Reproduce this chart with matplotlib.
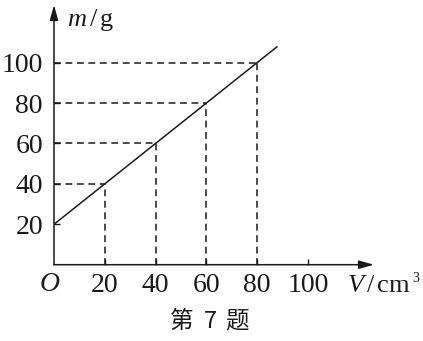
import matplotlib
matplotlib.use("Agg")
import matplotlib.pyplot as plt

# Data
line_V = [0, 88]
line_m = [20, 108]
point_V = [20, 40, 60, 80]
point_m = [40, 60, 80, 100]
x_ticks = [20, 40, 60, 80, 100]
y_ticks = [20, 40, 60, 80, 100]
x_max, y_max = 126, 128.5

plt.rcParams['mathtext.fontset'] = 'custom'
plt.rcParams['mathtext.rm'] = 'Liberation Serif'
plt.rcParams['mathtext.it'] = 'Liberation Serif:italic'
plt.rcParams['font.family'] = ['Liberation Serif', 'Noto Sans CJK SC']

fig = plt.figure(figsize=(4.23, 3.41), dpi=100)
W, H = 423, 341
x0, y0 = 54, 264.7
x1, y1 = 374, 5
ax = fig.add_axes([x0 / W, (H - y0) / H, (x1 - x0) / W, (y0 - y1) / H])
ax.set_xlim(0, x_max)
ax.set_ylim(0, y_max)
for s in ax.spines.values():
    s.set_visible(False)

col = '#1a1a1a'
# axes with arrows
for tgt in [(x_max, 0), (0, y_max)]:
    ax.annotate('', xy=tgt, xytext=(0, 0),
                arrowprops=dict(arrowstyle='-|>,head_length=0.9,head_width=0.25', color=col, lw=1.1,
                                shrinkA=0, shrinkB=0), annotation_clip=False)

# main line
ax.plot(line_V, line_m, color=col, lw=1.1, solid_capstyle='butt')

# dashed guides
for v, m in zip(point_V, point_m):
    ax.plot([v, v], [0, m], color=col, lw=1.1, dashes=(4.5, 3))
    ax.plot([0, v], [m, m], color=col, lw=1.1, dashes=(4.5, 3))

ax.set_xticks(x_ticks)
ax.set_yticks(y_ticks)
ax.set_xticklabels([str(t) for t in x_ticks])
ax.set_yticklabels([str(t) for t in y_ticks])
ax.tick_params(axis='both', direction='in', length=4, width=1, color=col,
               labelsize=20, labelcolor=col)
ax.tick_params(axis='y', pad=8)
ax.tick_params(axis='x', pad=6)

ax.text(-1.6, -9.6, '$O$', fontsize=20, ha='center', va='center', color=col)
ax.text(5, 121, r'$m\,/\,\mathrm{g}$', fontsize=19, ha='left', va='center', color=col)
ax.text(115.5, -10.5, r'$V\,/\,\mathrm{cm}$', fontsize=19, ha='left', va='center', color=col)
ax.text(141.0, -7.0, '3', fontsize=10, ha='left', va='center', color=col, clip_on=False)

cjk = ['Noto Sans CJK SC', 'DejaVu Sans']
for ch, cx in [('第', 181.5), ('7', 210), ('题', 237.5)]:
    fig.text(cx / W, 1 - 321 / H, ch, fontsize=17, ha='center', va='center',
             color=col, family=cjk, fontweight='light')

fig.savefig('out.png', dpi=100)
